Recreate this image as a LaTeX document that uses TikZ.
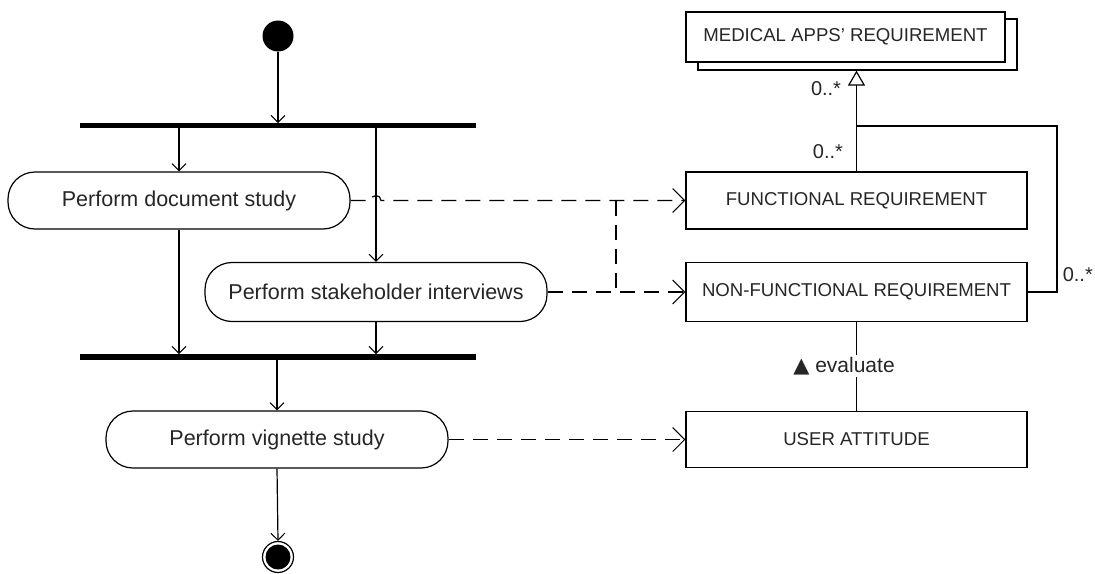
\documentclass[tikz,border=0pt]{standalone}
\usepackage{fontspec}
\setmainfont{Liberation Sans}
\newfontfamily\symfont{DejaVu Sans}
\usetikzlibrary{arrows.meta,calc}
\definecolor{txt}{HTML}{262626}
\begin{document}
\begin{tikzpicture}[x=1pt,y=-1pt,
  base/.style={line width=1.2pt, draw=black},
  act/.style={base, rounded corners=27pt, minimum width=342pt, minimum height=57pt, inner sep=0pt,
    font=\fontsize{21.5}{25}\selectfont, text=txt, fill=white},
  cls/.style={base, rectangle, minimum width=341pt, minimum height=57pt, inner sep=0pt,
    font=\fontsize{18.6}{22}\selectfont, text=txt, fill=white},
  bar/.style={fill=black, rectangle, minimum width=396pt, inner sep=0pt},
  flow/.style={base, -{Straight Barb[length=7pt, width=14pt, line width=1pt]}},
  dep/.style={base, dash pattern=on 15pt off 9pt, -{Straight Barb[length=12pt, width=24pt, line width=1pt]}},
  depline/.style={base, dash pattern=on 15pt off 9pt},
  gen/.style={base, -{Triangle[open, length=15pt, width=17pt, line width=1.2pt]}},
  mult/.style={font=\fontsize{20}{22}\selectfont, text=txt, inner sep=1pt},
]
\useasboundingbox (0,0) rectangle (1095,573);
\fill[white] (0,0) rectangle (1095,573);

% activity side
\node[circle, fill=black, minimum size=31pt, inner sep=0pt] (start) at (278,36) {};
\node[bar, minimum height=4.5pt] (fork) at (278,125.5) {};
\node[act] (doc) at (179,200.5) {Perform document study};
\node[act, minimum height=59pt] (stake) at (376,292) {Perform stakeholder interviews};
\node[bar, minimum height=5.5pt] (join) at (278,357) {};
\node[act] (vig) at (277,439.5) {Perform vignette study};
\node[circle, draw=black, line width=1.2pt, minimum size=31pt, inner sep=0pt] (end) at (278,557) {};
\fill[black] (end.center) circle[radius=12.5pt];

\draw[flow] (start.south) -- (start.south |- fork.north);
\draw[flow] (fork.south -| doc.north) -- (doc.north);
\draw[flow] (fork.south -| stake.north) -- (stake.north);
\draw[flow] (doc.south) -- (doc.south |- join.north);
\draw[flow] (stake.south) -- (stake.south |- join.north);
\draw[flow] (join.south -| vig.north) -- (vig.north);
\draw[flow] (vig.south) -- (end.north);

% class side
\node[cls, minimum width=319pt, minimum height=51pt] (meds) at (857.5,44.5) {};
\node[cls, minimum width=319pt, minimum height=50pt] (med) at (845.5,37) {MEDICAL APPS' REQUIREMENT};
\node[cls] (fr) at (856.5,200.5) {FUNCTIONAL REQUIREMENT};
\node[cls, minimum height=59pt] (nfr) at (856.5,292) {NON-FUNCTIONAL REQUIREMENT};
\node[cls, minimum height=56pt] (ua) at (856.5,439.5) {USER ATTITUDE};

\draw[gen] (fr.north) -- (fr.north |- meds.south);
\coordinate (br) at (1057,126);
\draw[base] (nfr.east) -| (br) -- (br -| fr.north);
\node[mult] (m1) at (826,89) {0..*};
\node[mult] (m2) at (828,152) {0..*};
\node[mult, anchor=east, inner sep=0pt] (m3) at (1093,275) {0..*};

\draw[base] (nfr.south) -- (ua.north);
\node[fill=white, inner sep=2pt, font=\fontsize{21}{24}\selectfont, text=txt] (ev) at (844,366) {{\symfont\fontsize{21}{24}\selectfont ▲} evaluate};

% dependencies
\draw[dep] (doc.east) -- ([xshift=-5pt]stake.north |- doc.east)
  arc[start angle=180, end angle=0, radius=5pt] -- (fr.west);
\draw[dep] (stake.east) -- (nfr.west);
\draw[dep] (vig.east) -- (ua.west);
\coordinate (j1) at (616,200.5);
\coordinate (j2) at (616,292);
\draw[depline] (j1) -- (j2);
\end{tikzpicture}
\end{document}
